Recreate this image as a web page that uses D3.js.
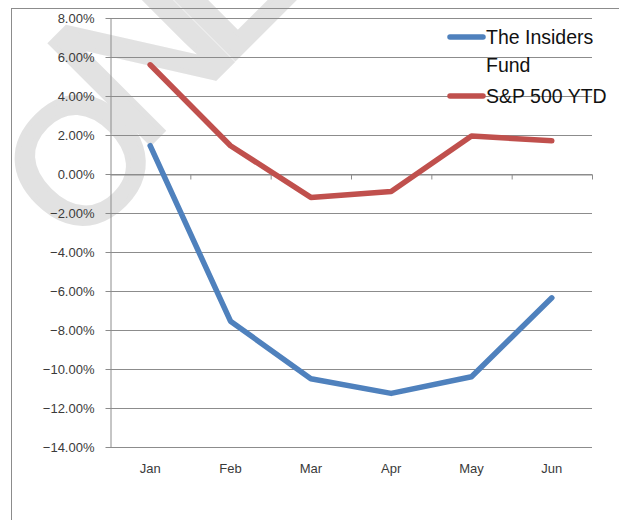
<!DOCTYPE html>
<html>
<head>
<meta charset="utf-8">
<script src="https://cdn.jsdelivr.net/npm/d3@7"></script>
<style>
  body { margin: 0; background: #fff; }
  svg { display: block; }
</style>
</head>
<body>
<svg id="chart"></svg>
<script>
var months = ['Jan', 'Feb', 'Mar', 'Apr', 'May', 'Jun'];
var insiders = [0.0145, -0.0755, -0.105, -0.1125, -0.104, -0.0635];
var sp500 = [0.056, 0.0145, -0.012, -0.009, 0.0195, 0.017];
var yTicks = [0.08, 0.06, 0.04, 0.02, 0, -0.02, -0.04, -0.06, -0.08, -0.10, -0.12, -0.14];
var seriesNames = ['The Insiders Fund', 'S&P 500 YTD'];

var width = 619;
var height = 520;
var plot = { left: 110, right: 592, top: 18, bottom: 447 };
var gridColor = '#8c8c8c';
var colors = ['#4f81bd', '#c0504d'];
var font = 'Liberation Sans, Arial, sans-serif';

var svg = d3.select('#chart')
            .attr('width', width)
            .attr('height', height);

// watermark behind the chart
var mark = svg.append('text')
   .attr('transform', 'translate(75,251) rotate(-45)')
   .attr('font-family', font)
   .attr('font-size', 205)
   .attr('letter-spacing', -28)
   .attr('fill', '#e2e2e2')
   .attr('stroke', '#e2e2e2')
   .attr('stroke-width', 5);
mark.append('tspan').attr('font-size', 175).text('O');
mark.append('tspan').attr('dx', 5).attr('dy', -23).text('NLY');

// chart frame
svg.append('rect')
   .attr('x', 11.5)
   .attr('y', 8.5)
   .attr('width', 700)
   .attr('height', 600)
   .attr('fill', 'none')
   .attr('stroke', gridColor);

var xScale = d3.scaleBand()
               .domain(months)
               .range([plot.left, plot.right]);

var xEdges = d3.scaleLinear()
               .domain([0, months.length])
               .range([plot.left, plot.right]);

var yScale = d3.scaleLinear()
               .domain([-0.14, 0.08])
               .range([plot.bottom, plot.top]);

// gridlines
svg.append('g')
   .attr('class', 'grid')
   .selectAll('line')
   .data(yTicks)
   .enter()
   .append('line')
   .attr('x1', plot.left)
   .attr('x2', plot.right)
   .attr('y1', function(d){ return Math.round(yScale(d)) + 0.5; })
   .attr('y2', function(d){ return Math.round(yScale(d)) + 0.5; })
   .attr('stroke', gridColor)
   .attr('stroke-width', 1);

var yAxis = d3.axisLeft(yScale)
              .tickValues(yTicks)
              .tickSize(5)
              .tickSizeOuter(0)
              .tickPadding(11)
              .tickFormat(d3.format('.2%'));

var y_axis = svg.append('g')
                .attr('class', 'y_axis')
                .attr('transform', 'translate(' + (plot.left + 0.5) + ',0)')
                .call(yAxis);

y_axis.select('.domain').attr('stroke', gridColor);
y_axis.selectAll('.tick line').attr('stroke', gridColor);
y_axis.selectAll('.tick text')
      .attr('font-family', font)
      .attr('font-size', 13)
      .attr('fill', '#3a3a3a');

// category axis crosses at zero
var xAxis = d3.axisBottom(xEdges)
              .tickValues(d3.range(1, months.length + 1))
              .tickSize(5)
              .tickSizeOuter(0)
              .tickFormat('');

var x_axis = svg.append('g')
                .attr('class', 'x_axis')
                .attr('transform', 'translate(0,' + (Math.round(yScale(0)) + 0.5) + ')')
                .call(xAxis);

x_axis.select('.domain').attr('stroke', gridColor);
x_axis.selectAll('.tick line').attr('stroke', gridColor);

// month labels below plot
svg.append('g')
   .selectAll('text')
   .data(months)
   .enter()
   .append('text')
   .attr('x', function(d){ return xScale(d) + xScale.bandwidth() / 2; })
   .attr('y', 473)
   .attr('text-anchor', 'middle')
   .attr('font-family', font)
   .attr('font-size', 13)
   .attr('fill', '#3a3a3a')
   .text(function(d){ return d; });

var line = d3.line()
             .x(function(d, i){ return xScale(months[i]) + xScale.bandwidth() / 2; })
             .y(function(d){ return yScale(d); });

[sp500, insiders].forEach(function(series, k){
  svg.append('path')
     .datum(series)
     .attr('fill', 'none')
     .attr('stroke', colors[1 - k])
     .attr('stroke-width', 5.5)
     .attr('stroke-linejoin', 'round')
     .attr('stroke-linecap', 'round')
     .attr('d', line);
});

// legend
var legend = svg.append('g')
                .attr('font-family', font)
                .attr('font-size', 19.5)
                .attr('fill', '#111');

var legendRows = [
  { y: 37, color: colors[0], lines: ['The Insiders', 'Fund'] },
  { y: 96, color: colors[1], lines: [seriesNames[1]] }
];

legendRows.forEach(function(r){
  legend.append('line')
        .attr('x1', 450)
        .attr('x2', 483)
        .attr('y1', r.y)
        .attr('y2', r.y)
        .attr('stroke', r.color)
        .attr('stroke-width', 5.5)
        .attr('stroke-linecap', 'round');
  r.lines.forEach(function(t, j){
    legend.append('text')
          .attr('x', 486)
          .attr('y', r.y + 6.5 + j * 28)
          .text(t);
  });
});
</script>
</body>
</html>
